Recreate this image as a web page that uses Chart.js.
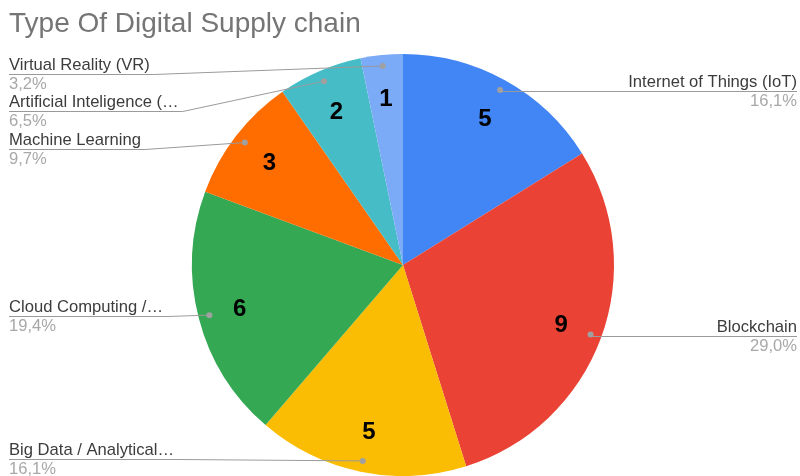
<!DOCTYPE html>
<html>
<head>
<meta charset="utf-8">
<script src="https://cdn.jsdelivr.net/npm/chart.js@4/dist/chart.umd.min.js"></script>
<style>
html,body{margin:0;padding:0;background:#fff;}
#wrap{width:800px;height:476px;position:relative;}
</style>
</head>
<body>
<div id="wrap"><canvas id="c"></canvas></div>
<script>
const chartTitle = "Type Of Digital Supply chain";
const categories = ["Internet of Things (IoT)", "Blockchain", "Big Data / Analytical…", "Cloud Computing /…", "Machine Learning", "Artificial Inteligence (…", "Virtual Reality (VR)"];
const values = [5, 9, 5, 6, 3, 2, 1];
const colors = ["#4285F4", "#EA4335", "#FBBC04", "#34A853", "#FF6D01", "#46BDC6", "#7BAAF7"];
// vertical position of each label's underline (layout only)
const labelLineY = [91, 336, 459, 316, 149, 111, 74];

const total = values.reduce((a, b) => a + b, 0);
const pctText = v => (v / total * 100).toFixed(1).replace('.', ',') + '%';
const LABEL_FONT = '16.6px Arial, "Liberation Sans", sans-serif';

const labelPlugin = {
  id: 'pieLabels',
  afterDraw(chart) {
    const ctx = chart.ctx;
    const meta = chart.getDatasetMeta(0);
    ctx.save();
    // title
    ctx.font = '28px Arial, "Liberation Sans", sans-serif';
    ctx.fillStyle = '#757575';
    ctx.textAlign = 'left';
    ctx.textBaseline = 'alphabetic';
    ctx.fillText(chartTitle, 9, 32);

    meta.data.forEach((arc, i) => {
      const p = arc.getProps(['x', 'y', 'startAngle', 'endAngle', 'outerRadius'], true);
      const mid = (p.startAngle + p.endAngle) / 2;
      // value inside
      const rIn = p.outerRadius * 0.8;
      ctx.font = 'bold 24px Arial, "Liberation Sans", sans-serif';
      ctx.fillStyle = '#000';
      ctx.textAlign = 'center';
      ctx.textBaseline = 'middle';
      ctx.fillText(String(values[i]), p.x + Math.cos(mid) * rIn, p.y + Math.sin(mid) * rIn + 2);

      // leader dot
      const rDot = p.outerRadius * 0.948;
      const dx = p.x + Math.cos(mid) * rDot;
      const dy = p.y + Math.sin(mid) * rDot;
      const right = Math.cos(mid) > 0;
      const ly = labelLineY[i];
      ctx.font = LABEL_FONT;
      const tw = ctx.measureText(categories[i]).width;
      ctx.strokeStyle = '#9a9a9a';
      ctx.lineWidth = 1;
      ctx.beginPath();
      if (right) {
        const xe = 797;
        const xs = xe - tw - 4;
        ctx.moveTo(xe, ly + 0.5);
        ctx.lineTo(Math.min(xs, dx), ly + 0.5);
        ctx.lineTo(dx, dy);
      } else {
        const xs = 9;
        const xe = xs + tw + 4;
        ctx.moveTo(xs, ly + 0.5);
        ctx.lineTo(Math.max(xe, xs), ly + 0.5);
        ctx.lineTo(dx, dy);
      }
      ctx.stroke();
      ctx.fillStyle = '#a0a0a0';
      ctx.beginPath();
      ctx.arc(dx, dy, 3, 0, Math.PI * 2);
      ctx.fill();

      // texts
      ctx.textBaseline = 'alphabetic';
      ctx.textAlign = right ? 'right' : 'left';
      const tx = right ? 797 : 9;
      ctx.fillStyle = '#3c3c3c';
      ctx.font = LABEL_FONT;
      ctx.fillText(categories[i], tx, ly - 4);
      ctx.fillStyle = '#a8a8a8';
      ctx.fillText(pctText(values[i]), tx, ly + 15);
    });
    ctx.restore();
  }
};

new Chart(document.getElementById('c'), {
  type: 'pie',
  data: {
    labels: categories,
    datasets: [{
      data: values,
      backgroundColor: colors,
      borderWidth: 0,
      hoverOffset: 0
    }]
  },
  options: {
    responsive: true,
    maintainAspectRatio: false,
    animation: false,
    layout: { padding: { top: 54, bottom: 0, left: 192, right: 186 } },
    plugins: {
      legend: { display: false },
      tooltip: { enabled: false },
      title: { display: false }
    }
  },
  plugins: [labelPlugin]
});
</script>
</body>
</html>
